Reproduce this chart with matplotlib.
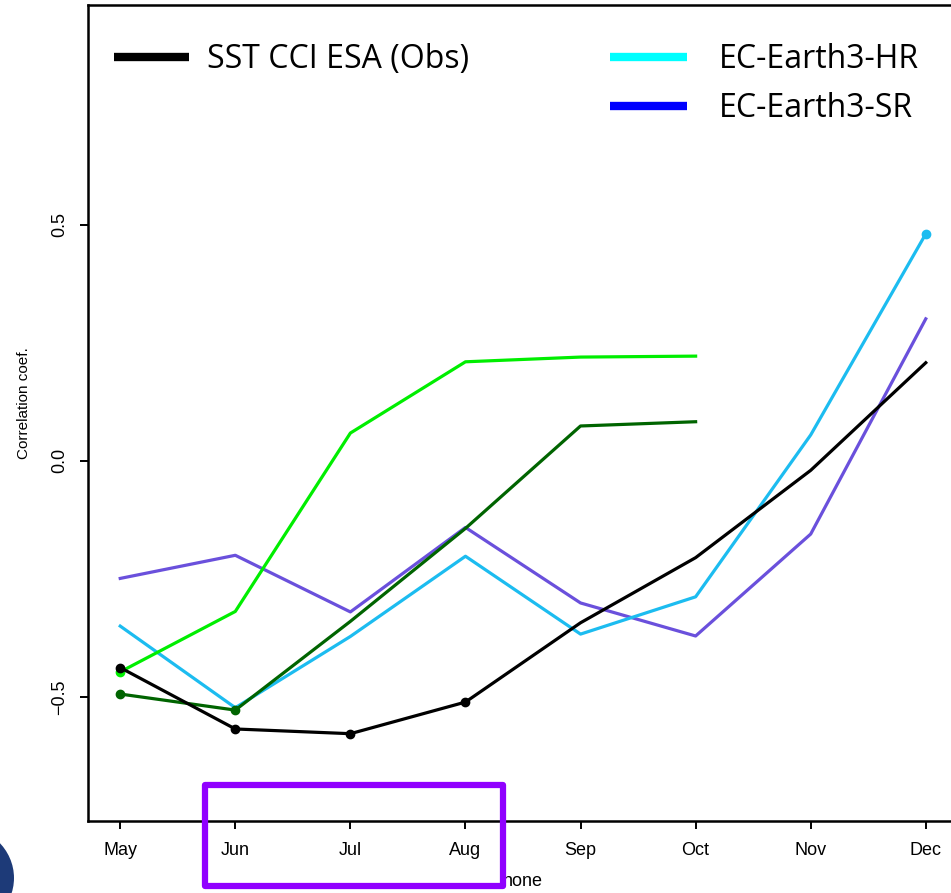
import matplotlib
matplotlib.use("Agg")
import matplotlib.pyplot as plt
from matplotlib.lines import Line2D
from matplotlib.patches import Rectangle, Circle

# monthly correlation of the index, start month May
months = ['May', 'Jun', 'Jul', 'Aug', 'Sep', 'Oct', 'Nov', 'Dec']
obs_sst_cci = [-0.438, -0.568, -0.578, -0.511, -0.343, -0.205, -0.020, 0.208]
ec_earth_hr = [-0.350, -0.523, -0.372, -0.202, -0.367, -0.288, 0.055, 0.481]
ec_earth_sr = [-0.249, -0.200, -0.320, -0.141, -0.301, -0.371, -0.155, 0.301]
# the two green runs stop in October
green_light = [-0.447, -0.319, 0.059, 0.210, 0.220, 0.222]
green_dark = [-0.494, -0.528, -0.340, -0.143, 0.074, 0.083]

W, H = 951, 893
fig = plt.figure(figsize=(W / 100, H / 100), dpi=100)
ax = fig.add_axes([88 / W, (H - 821) / H, 870 / W, 816 / H])

x = list(range(1, len(months) + 1))
lw = 2.3
ax.plot(x, ec_earth_sr, color='#6a50dc', lw=lw)
ax.plot(x, ec_earth_hr, color='#1cbcf0', lw=lw, marker='o', ms=6, markevery=[7])
ax.plot(x[:6], green_light, color='#00ee00', lw=lw, marker='o', ms=6, markevery=[0])
ax.plot(x[:6], green_dark, color='#006400', lw=lw, marker='o', ms=6, markevery=[0, 1])
ax.plot(x, obs_sst_cci, color='black', lw=lw, marker='o', ms=6, markevery=[0, 1, 2, 3])

ax.set_xlim(0.72, 8.28)
ax.set_ylim(-0.763, 0.966)
ax.set_xticks(x)
ax.set_xticklabels(months)
ax.set_yticks([-0.5, 0.0, 0.5])
ax.set_yticklabels(['\u22120.5', '0.0', '0.5'], rotation=90, va='center')
for lab in ax.get_xticklabels() + ax.get_yticklabels():
    lab.set_family('Liberation Sans')
    lab.set_fontsize(13)
ax.tick_params(length=6, width=1.4, pad=9)
ax.tick_params(axis='y', pad=8)
for s in ax.spines.values():
    s.set_linewidth(1.8)

ax.set_xlabel('none', family='Liberation Sans', fontsize=13)
ax.xaxis.set_label_coords(0.5, -52 / 816)
ax.set_ylabel('Correlation coef.', family='Liberation Sans', fontsize=11)
ax.yaxis.set_label_coords(-57 / 870, 0.512)

# legend entries pasted over the plot area
leg1 = ax.legend(handles=[Line2D([], [], color='black', lw=6, solid_capstyle='butt')],
                 labels=['SST CCI ESA (Obs)'], loc='upper left',
                 bbox_to_anchor=(26 / 870, 1 - 38 / 816), frameon=False,
                 prop={'family': 'Open Sans', 'size': 23},
                 handlelength=2.35, handletextpad=0.55, borderpad=0, borderaxespad=0)
ax.add_artist(leg1)
ax.legend(handles=[Line2D([], [], color='#00ffff', lw=6, solid_capstyle='butt'),
                   Line2D([], [], color='#0000ff', lw=6, solid_capstyle='butt')],
          labels=['EC-Earth3-HR', 'EC-Earth3-SR'], loc='upper left',
          bbox_to_anchor=(522 / 870, 1 - 38 / 816), frameon=False,
          prop={'family': 'Open Sans', 'size': 23},
          handlelength=2.4, handletextpad=1.0, labelspacing=0.5,
          borderpad=0, borderaxespad=0)

# highlight box around the summer months
fig.patches.append(Rectangle((205 / W, (H - 886) / H), 298 / W, 101 / H,
                             transform=fig.transFigure, fill=False,
                             edgecolor='#9000ff', lw=4.5, joinstyle='round',
                             zorder=10))

# partial logo at the lower left corner
fig.patches.append(Circle((-42 / W, (H - 878) / H), 56 / W, transform=fig.transFigure,
                          facecolor='#1d3a78', edgecolor='none'))

fig.savefig('out.png', dpi=100)
